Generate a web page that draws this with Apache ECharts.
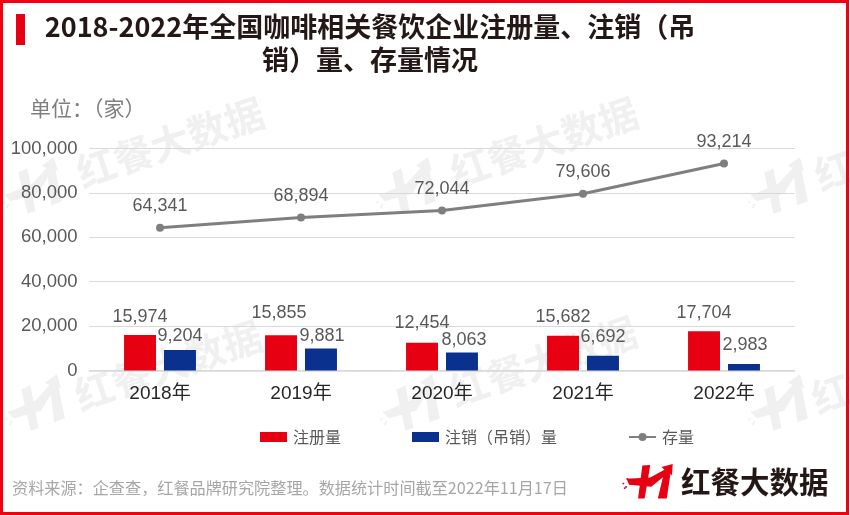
<!DOCTYPE html>
<html><head><meta charset="utf-8">
<style>html,body{margin:0;padding:0;background:#fff}#c{width:850px;height:515px}</style>
<script src="https://cdn.jsdelivr.net/npm/echarts@6/dist/echarts.min.js"></script>
</head><body><div id="c"></div>
<script>
const categories = ['2018年','2019年','2020年','2021年','2022年'];
const registered = [15974,15855,12454,15682,17704];
const cancelled = [9204,9881,8063,6692,2983];
const existing = [64341,68894,72044,79606,93214];
const yTicks = {min:0,max:100000,interval:20000};
const regNudge = [[0,-4],[-2,-8],[0,-6],[0,-5],[0,-4]];
const canNudge = [[0,0],[1,1],[2,1],[0,-5],[1,-5]];

const CJK = '"Liberation Sans","Noto Sans CJK SC",sans-serif';
const CJKB = '"Noto Sans CJK SC",sans-serif';
const WM = '#f0f0f0';

function icon(x,y,s,rot,color,dots){
  const polys = [
    [[98,32],[122,30],[105,132],[85,132]],
    [[162,60],[185,45],[172,132],[145,132]],
    [[50,72],[122,68],[165,45],[156,36],[190,27],[188,62],[179,52],[125,96],[58,90]]
  ];
  const children = polys.map(p=>({type:'polygon',shape:{points:p},style:{fill:color}}));
  if(dots){[[38,84],[46,94],[50,70],[42,98]].forEach(d=>children.push({type:'rect',shape:{x:d[0],y:d[1],width:5,height:5},style:{fill:color}}));}
  return {type:'group',x,y,scaleX:s,scaleY:s,rotation:rot,silent:true,z:0,children};
}
function wmText(x,y){
  return {type:'text',x,y,rotation:0.33,z:0,silent:true,
    style:{text:'红餐大数据',fill:WM,font:'bold 39px "Noto Sans CJK SC"',textVerticalAlign:'middle'}};
}
const wmIcon=(x,y)=>icon(x,y,0.42,0.35,WM,true);

const chart = echarts.init(document.getElementById('c'),null,{renderer:'canvas'});
chart.setOption({
  animation:false,
  backgroundColor:'#fff',
  graphic:[
    wmText(78,174),wmText(452,174),wmText(816,177),
    wmText(76,397),wmText(451,393),wmText(813,400),
    wmIcon(-25,174),wmIcon(349,174),wmIcon(721,174),
    wmIcon(-22,391),wmIcon(353,391),wmIcon(721,391),
    {type:'rect',z:5,silent:true,shape:{x:1.5,y:1.5,width:846,height:512},style:{fill:'none',stroke:'#f20010',lineWidth:3}},
    {type:'rect',z:5,silent:true,shape:{x:16,y:14,width:9,height:31},style:{fill:'#e60012'}},
    {type:'text',z:5,x:370,y:27,style:{text:'2018-2022年全国咖啡相关餐饮企业注册量、注销（吊',fill:'#231815',font:'bold 27px '+CJKB,textAlign:'center',textVerticalAlign:'middle'}},
    {type:'text',z:5,x:370,y:60,style:{text:'销）量、存量情况',fill:'#231815',font:'bold 27px '+CJKB,textAlign:'center',textVerticalAlign:'middle'}},
    {type:'text',z:5,x:30,y:108,style:{text:'单位：（家）',fill:'#7f7f7f',font:'21px '+CJKB,textVerticalAlign:'middle'}},
    {type:'text',z:5,x:12,y:488,style:{text:'资料来源：企查查，红餐品牌研究院整理。数据统计时间截至2022年11月17日',fill:'#a6a6a6',font:'16.15px '+CJKB,textVerticalAlign:'middle'}},
    icon(610,455,0.33,0,'#e60012',true),
    {type:'text',z:5,x:681,y:482,style:{text:'红餐大数据',fill:'#231815',font:'bold 29.5px '+CJKB,textVerticalAlign:'middle'}}
  ],
  grid:{left:89.5,right:55.5,top:148.5,bottom:144.5,containLabel:false},
  legend:{
    left:255,top:424,itemWidth:27,itemHeight:10,itemGap:71,
    textStyle:{color:'#595959',fontSize:16,fontFamily:CJKB,padding:[0,0,0,1]},
    data:[{name:'注册量',icon:'rect'},{name:'注销（吊销）量',icon:'rect'},{name:'存量'}]
  },
  xAxis:{type:'category',data:categories,
    axisLine:{lineStyle:{color:'#d9d9d9',width:1.5}},axisTick:{show:false},
    axisLabel:{color:'#262626',fontSize:19,fontFamily:CJK,margin:14}},
  yAxis:{type:'value',min:yTicks.min,max:yTicks.max,interval:yTicks.interval,
    axisLine:{show:false},axisTick:{show:false},
    splitLine:{lineStyle:{color:'#d9d9d9',width:1}},
    axisLabel:{color:'#595959',fontSize:18.5,fontFamily:CJK,margin:12,padding:[3,0,0,0],
      formatter:v=>v.toLocaleString('en-US')}},
  series:[
    {name:'注册量',type:'bar',barGap:'25%',barCategoryGap:'49%',
      itemStyle:{color:'#e60012'},
      data:registered.map((v,i)=>({value:v,label:{offset:regNudge[i]}})),
      label:{show:true,position:'top',color:'#595959',fontSize:18,fontFamily:CJK,formatter:p=>p.value.toLocaleString('en-US')}},
    {name:'注销（吊销）量',type:'bar',
      itemStyle:{color:'#0b318f'},
      data:cancelled.map((v,i)=>({value:v,label:{offset:canNudge[i]}})),
      label:{show:true,position:'top',color:'#595959',fontSize:18,fontFamily:CJK,formatter:p=>p.value.toLocaleString('en-US')}},
    {name:'存量',type:'line',data:existing,symbol:'circle',symbolSize:8,
      lineStyle:{color:'#7f7f7f',width:3},itemStyle:{color:'#7f7f7f'},
      label:{show:true,position:'top',distance:9,color:'#595959',fontSize:18,fontFamily:CJK,formatter:p=>p.value.toLocaleString('en-US')}}
  ]
});
</script></body></html>
